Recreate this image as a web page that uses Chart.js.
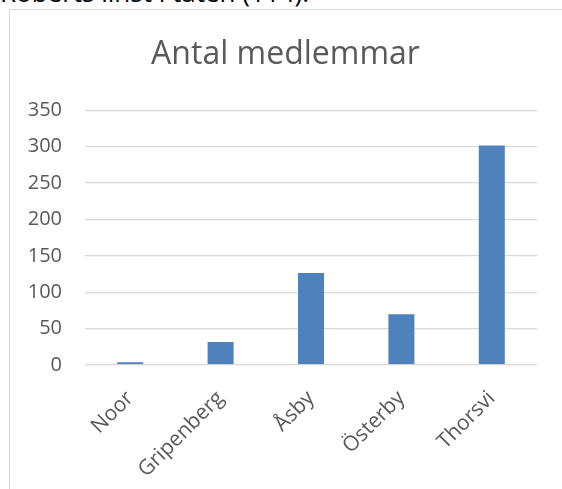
<!DOCTYPE html>
<html>
<head>
<meta charset="utf-8">
<script src="https://cdn.jsdelivr.net/npm/chart.js@4"></script>
<style>
  html, body { margin: 0; padding: 0; background: #fff; width: 562px; height: 489px; overflow: hidden; }
  #top { position: absolute; left: 0; top: -26px; font-family: "Open Sans", sans-serif; font-size: 26px; color: #000; white-space: nowrap; }
  #frame { position: absolute; left: 9px; top: 9px; width: 600px; height: 520px; border: 1px solid #d9d9d9; box-sizing: border-box; }
  #wrap { position: absolute; left: 0; top: 0; width: 562px; height: 489px; }
</style>
</head>
<body>
<div id="top">Roberts linst i taten (114).</div>
<div id="frame"></div>
<div id="wrap"><canvas id="c" width="562" height="489"></canvas></div>
<script>
const categories = ["Noor", "Gripenberg", "Åsby", "Österby", "Thorsvi"];
const values = [5, 33, 128, 71, 303];
const yTicks = [0, 50, 100, 150, 200, 250, 300, 350];
const chartTitle = "Antal medlemmar";

const textColor = "#595959";
const shiftTitle = {
  id: "shiftTitle",
  afterLayout(chart) {
    if (chart.titleBlock) { chart.titleBlock.left = 34; }
  }
};
new Chart(document.getElementById("c"), {
  type: "bar",
  data: {
    labels: categories,
    datasets: [{
      data: values,
      backgroundColor: "#4f81bd",
      borderColor: "rgba(255,255,255,0.25)",
      borderWidth: 1,
      categoryPercentage: 1,
      barPercentage: 0.31
    }]
  },
  plugins: [shiftTitle],
  options: {
    responsive: false,
    animation: false,
    devicePixelRatio: 1,
    layout: { padding: { left: 0, right: 25, top: 36, bottom: 0 } },
    plugins: {
      legend: { display: false },
      tooltip: { enabled: false },
      title: {
        display: true,
        text: chartTitle,
        color: textColor,
        font: { family: "Open Sans", size: 32, weight: "normal" },
        padding: { top: 0, bottom: 36 }
      }
    },
    scales: {
      x: {
        grid: { display: false, drawTicks: false },
        border: { display: false },
        ticks: {
          color: textColor,
          font: { family: "Open Sans", size: 21 },
          maxRotation: 45, minRotation: 45,
          padding: 21
        },
        afterFit: (s) => { s.height = 124; }
      },
      y: {
        min: 0, max: 350,
        afterBuildTicks: (s) => { s.ticks = yTicks.map(v => ({ value: v })); },
        grid: { color: "#d9d9d9", lineWidth: 1.3, drawTicks: false },
        border: { display: false },
        ticks: {
          color: textColor,
          font: { family: "Open Sans", size: 20 },
          padding: 23
        },
        afterFit: (s) => { s.width = 85; }
      }
    }
  }
});
</script>
</body>
</html>
